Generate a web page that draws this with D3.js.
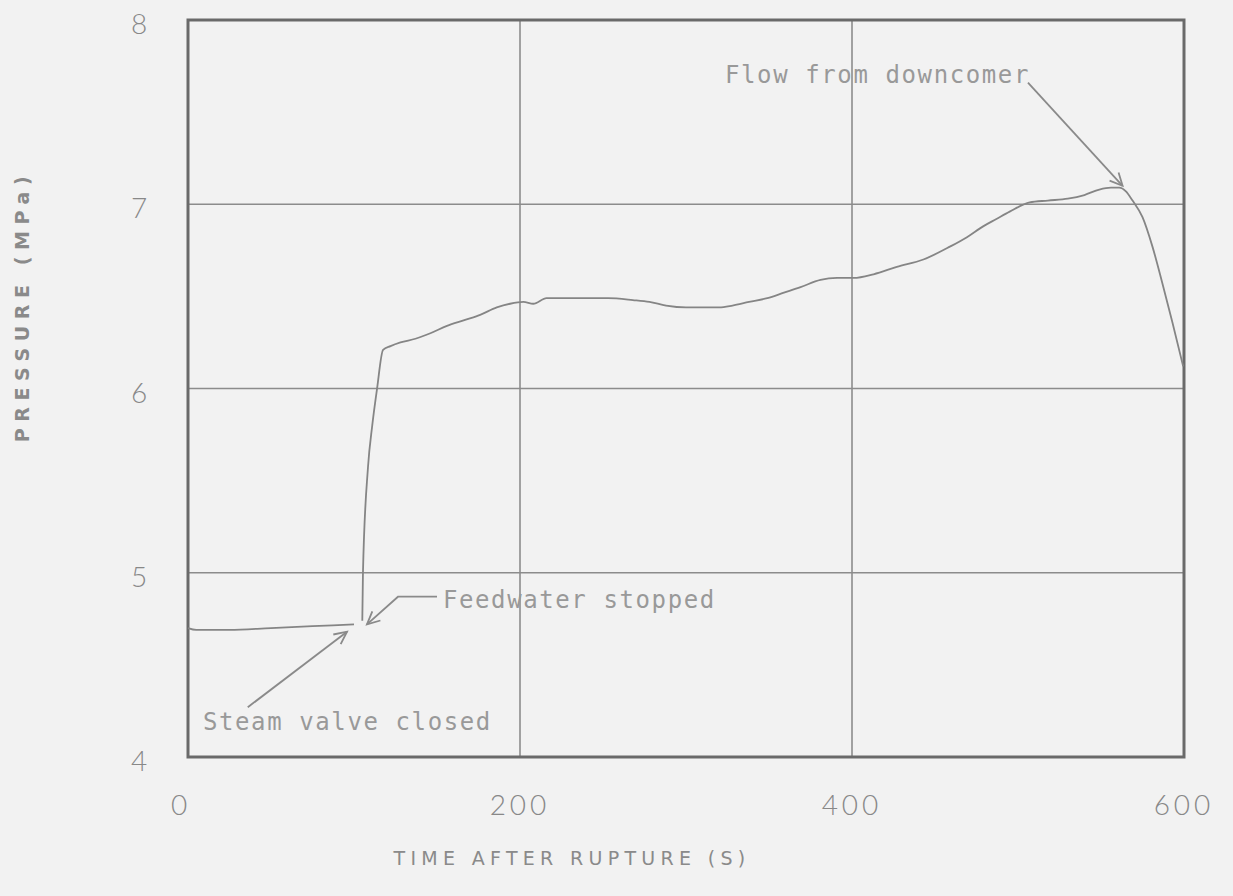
<!DOCTYPE html>
<meta charset="utf-8">
<style>
body { margin: 0; background: #f2f2f2; }
svg { display: block; }
.tick-label { font-family: Lato, "Open Sans", sans-serif; font-weight: 300; fill: #888; }
.axis-title { font-family: "DejaVu Sans", sans-serif; fill: #8a8a8a; }
.note { font-family: "DejaVu Sans Mono", monospace; fill: #999; }
</style>
<body>
<div id="chart"></div>
<script src="https://cdnjs.cloudflare.com/ajax/libs/d3/7.8.5/d3.min.js"></script>
<script>
// time after rupture (s) and pressure (MPa); null = gap in the trace
var timeS = [0, 5, 25, 50, 75, 100, 102, 105, 105.4, 108.4, 111, 113.9, 117.5, 122, 128, 137, 146, 156, 166, 176, 186, 194,
  202, 208, 216, 227, 238, 253, 268, 278, 288, 300, 313, 320, 328, 338, 349, 359, 369, 381, 391, 401, 413, 427,
  443, 459, 469, 479, 487, 495, 507, 518, 530, 540, 549, 556, 561, 565, 569, 575, 581, 587, 593, 599.5];
var pressureMPa = [4.70, 4.69, 4.69, 4.70, 4.71, 4.72, null, 4.74, 5.0, 5.57, 5.8, 6.0, 6.21, 6.23, 6.25, 6.27, 6.30, 6.34, 6.37, 6.40, 6.44, 6.46,
  6.47, 6.46, 6.49, 6.49, 6.49, 6.49, 6.48, 6.47, 6.45, 6.44, 6.44, 6.44, 6.45, 6.47, 6.49, 6.52, 6.55, 6.59, 6.60, 6.60, 6.62, 6.66,
  6.70, 6.77, 6.82, 6.88, 6.92, 6.96, 7.01, 7.02, 7.03, 7.05, 7.08, 7.09, 7.09, 7.07, 7.02, 6.93, 6.77, 6.57, 6.36, 6.12];

var xTicks = [0, 200, 400, 600];
var yTicks = [4, 5, 6, 7, 8];
var xTitle = "TIME AFTER RUPTURE (S)";
var yTitle = "PRESSURE (MPa)";

// annotations: text start, arrow path (data units), last point is the arrow tip
var notes = [
  {text: "Flow from downcomer", tx: 323.5, ty: 7.67, path: [[506, 7.66], [563, 7.10]]},
  {text: "Feedwater stopped", tx: 153.6, ty: 4.82, path: [[150, 4.87], [126.5, 4.87], [107.8, 4.72]]},
  {text: "Steam valve closed", tx: 9, ty: 4.16, path: [[36, 4.27], [95.8, 4.68]]}
];

var width = 1233, height = 896;
var x = d3.scaleLinear().domain([0, 600]).range([188, 1184]);
var y = d3.scaleLinear().domain([4, 8]).range([757, 20]);

var svg = d3.select("#chart").append("svg").attr("width", width).attr("height", height);

// grid
svg.append("g").selectAll("line.h")
  .data(yTicks.slice(1, -1)).enter().append("line")
  .attr("x1", x(0)).attr("x2", x(600))
  .attr("y1", function(d) { return y(d); }).attr("y2", function(d) { return y(d); })
  .attr("stroke", "#8c8c8c").attr("stroke-width", 1.6);
svg.append("g").selectAll("line.v")
  .data(xTicks.slice(1, -1)).enter().append("line")
  .attr("y1", y(4)).attr("y2", y(8))
  .attr("x1", function(d) { return x(d); }).attr("x2", function(d) { return x(d); })
  .attr("stroke", "#8c8c8c").attr("stroke-width", 1.6);

// frame
svg.append("rect")
  .attr("x", x(0)).attr("y", y(8))
  .attr("width", x(600) - x(0)).attr("height", y(4) - y(8))
  .attr("fill", "none").attr("stroke", "#6a6a6a").attr("stroke-width", 3);

// tick labels
svg.append("g").selectAll("text")
  .data(yTicks).enter().append("text")
  .attr("class", "tick-label")
  .attr("x", 139).attr("y", function(d) { return y(d) + 14; })
  .attr("text-anchor", "middle").attr("font-size", 28)
  .text(function(d) { return d; });
svg.append("g").selectAll("text")
  .data(xTicks).enter().append("text")
  .attr("class", "tick-label")
  .attr("x", function(d) { return x(d) - (d === 0 ? 7 : 0); }).attr("y", 815)
  .attr("text-anchor", "middle").attr("font-size", 28).attr("letter-spacing", 4)
  .text(function(d) { return d; });

// axis titles
svg.append("text").attr("class", "axis-title")
  .attr("x", 572).attr("y", 865).attr("text-anchor", "middle")
  .attr("font-size", 19).attr("letter-spacing", 5.3)
  .text(xTitle);
svg.append("text").attr("class", "axis-title")
  .attr("transform", "translate(29,306) rotate(-90)").attr("text-anchor", "middle")
  .attr("font-size", 19).attr("letter-spacing", 6.6).attr("font-weight", "bold")
  .text(yTitle);

// trace
var pts = timeS.map(function(t, i) { return [t, pressureMPa[i]]; });
var line = d3.line()
  .defined(function(d) { return d[1] !== null; })
  .x(function(d) { return x(d[0]); })
  .y(function(d) { return y(d[1]); })
  .curve(d3.curveMonotoneX);
svg.append("path").datum(pts)
  .attr("d", line)
  .attr("fill", "none").attr("stroke", "#858585").attr("stroke-width", 1.8);

// annotations
notes.forEach(function(n) {
  svg.append("text").attr("class", "note")
    .attr("x", x(n.tx)).attr("y", y(n.ty) + 2)
    .attr("font-size", 24).attr("letter-spacing", 1.6)
    .text(n.text);
  var p = n.path.map(function(d) { return [x(d[0]), y(d[1])]; });
  svg.append("path")
    .attr("d", d3.line()(p))
    .attr("fill", "none").attr("stroke", "#8a8a8a").attr("stroke-width", 1.8);
  // open arrowhead at the tip
  var a = p[p.length - 2], b = p[p.length - 1];
  var ang = Math.atan2(b[1] - a[1], b[0] - a[0]);
  var L = 14, s = 0.45;
  var h1 = [b[0] - L * Math.cos(ang - s), b[1] - L * Math.sin(ang - s)];
  var h2 = [b[0] - L * Math.cos(ang + s), b[1] - L * Math.sin(ang + s)];
  svg.append("path")
    .attr("d", d3.line()([h1, b, h2]))
    .attr("fill", "none").attr("stroke", "#8a8a8a").attr("stroke-width", 1.8);
});
</script>
</body>
